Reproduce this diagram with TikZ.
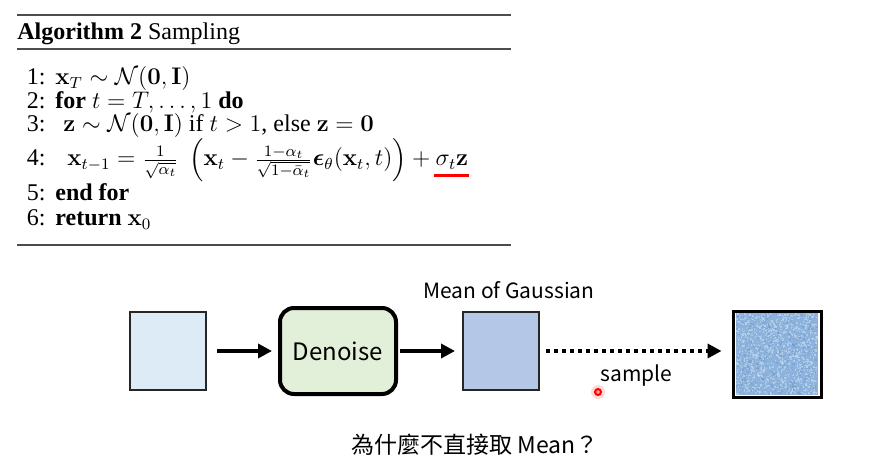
\documentclass[tikz,border=0pt]{standalone}
\usepackage{amsmath}
\usepackage[no-math]{fontspec}
\setmainfont{Liberation Serif}
\newfontfamily\cjk{Noto Sans CJK TC}
\usetikzlibrary{positioning,
	arrows.meta,
	calc}
\definecolor{inputblue}{HTML}{DDEBF7}
\definecolor{denoisegreen}{HTML}{E2F0D9}
\definecolor{meanblue}{HTML}{B4C7E7}
\definecolor{noiseblue}{HTML}{8DB3DC}
\definecolor{noiselight}{HTML}{C2D8EF}
\definecolor{noisedark}{HTML}{5F8FC4}
\definecolor{edgegray}{HTML}{262626}

\begin{document}
\begin{tikzpicture}[x=0.5pt, y=-0.5pt,
		imgbox/.style={draw=edgegray, line width=1pt, minimum width=38pt, minimum height=39pt, inner sep=0pt},
		procbox/.style={draw=black, line width=2pt, rounded corners=7pt, fill=denoisegreen, minimum width=58pt, minimum height=43pt, font=\cjk\fontsize{12}{14}\selectfont},
		flow/.style={line width=2pt, -{Triangle[length=7pt, width=7pt]}},
		label/.style={font=\cjk\fontsize{10.5}{12}\selectfont, inner sep=0pt},
		algline/.style={anchor=base west, inner sep=0pt, font=\fontsize{12}{14}\selectfont},
		algnum/.style={anchor=base east, inner sep=0pt, font=\fontsize{12}{14}\selectfont}]
	\useasboundingbox (0,0) rectangle (870,475);
	% algorithm block
	\draw[line width=1pt, gray!60!black] (17,15) -- (511,15);
	\node (title) [anchor=base west, inner sep=0pt, font=\fontsize{12}{14}\selectfont] at (17,40) {\textbf{Algorithm 2} Sampling};
	\draw[line width=0.8pt, gray!60!black] (17,49) -- (511,49);
	\foreach \n/\y in {1/85,2/109,3/132,4/166,5/201,6/226}
		\node (num\n) [algnum] at (46,\y) {\n:};
	\node (line1) [algline] at (55,85) {$\mathbf{x}_T \sim \mathcal{N}(\mathbf{0},\mathbf{I})$};
	\node (line2) [algline] at (55,109) {\textbf{for} $t=T,\dots,1$ \textbf{do}};
	\node (line3) [algline] at (63,132) {$\mathbf{z}\sim\mathcal{N}(\mathbf{0},\mathbf{I})$ if $t>1$, else $\mathbf{z}=\mathbf{0}$};
	\node (line4) [algline] at (67,166) {$\mathbf{x}_{t-1} = \frac{1}{\sqrt{\alpha_t}}\;\,\Bigl(\mathbf{x}_t - \frac{1-\alpha_t}{\sqrt{1-\bar\alpha_t}}\boldsymbol{\epsilon}_\theta(\mathbf{x}_t,t)\Bigr) + \sigma_t\mathbf{z}$};
	\node (line5) [algline] at (55,201) {\textbf{end for}};
	\node (line6) [algline] at (55,226) {\textbf{return} $\mathbf{x}_0$};
	\draw[red, line width=1.5pt] ($(line4.base east)+(-35,10)$) -- ($(line4.base east)+(0,10)$);
	\draw[line width=1pt, gray!60!black] (17,245) -- (511,245);

	% sampling pipeline
	\node (inp) [imgbox, fill=inputblue] at (168,351) {};
	\node (den) [procbox] at (338,351) {Denoise};
	\node (mean) [imgbox, fill=meanblue] at (501,351) {};
	\node (noise) [draw=black, line width=1.5pt, minimum width=44pt, minimum height=43pt, inner sep=0pt] at (777,354) {};
	\fill[noiseblue] (736,313) rectangle (818,395);
	\pgfmathsetseed{11}
	\foreach \k in {1,...,1100}{
		\pgfmathsetmacro\nx{736+80.5*rnd}
		\pgfmathsetmacro\ny{313+80.5*rnd}
		\fill[noiselight, opacity=0.6] (\nx,\ny) rectangle ++(1.5,1.5);
	}
	\foreach \k in {1,...,500}{
		\pgfmathsetmacro\nx{736+80.5*rnd}
		\pgfmathsetmacro\ny{313+80.5*rnd}
		\fill[noisedark, opacity=0.35] (\nx,\ny) rectangle ++(1.5,1.5);
	}
	\node (meanlabel) [label, anchor=base] at (509,298) {Mean of Gaussian};
	\node (samplelabel) [label, anchor=base west] at (600,381) {sample};
	\node (question) [label, anchor=base, font=\cjk\fontsize{11.5}{13}\selectfont] at (475,453) {為什麼不直接取 Mean？};

	\draw[flow, shorten <=5pt, shorten >=3pt] (inp) -- (den);
	\draw[flow, shorten <=1pt, shorten >=3.5pt] (den) -- (mean);
	\draw[flow, dash pattern=on 2pt off 2pt, shorten <=3pt, shorten >=5pt] (mean) -- (noise.west |- mean);

	% pointer dot
	\fill[red!30, opacity=0.5] (598,392) circle (7);
	\draw[red, line width=1pt, fill=red!40!white] (598,392) circle (3);
\end{tikzpicture}
\end{document}
